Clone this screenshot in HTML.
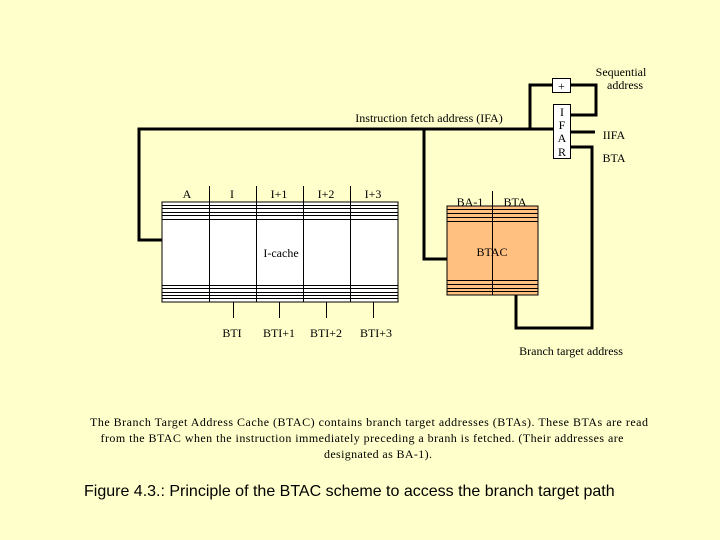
<!DOCTYPE html>
<html><head><meta charset="utf-8"><style>
html,body{margin:0;padding:0;background:#ffffcc;}
svg{display:block}
text{font-family:"Liberation Serif",serif;font-size:12px;fill:#000}
</style></head><body>
<svg width="720" height="540" viewBox="0 0 720 540" xmlns="http://www.w3.org/2000/svg">
<rect width="720" height="540" fill="#ffffcc"/>
<rect x="162" y="202" width="236" height="100" fill="#fff" stroke="#000" stroke-width="1"/>
<g stroke="#000" stroke-width="1">
<line x1="162" y1="205.5" x2="398" y2="205.5"/><line x1="162" y1="208.5" x2="398" y2="208.5"/>
<line x1="162" y1="212.5" x2="398" y2="212.5"/><line x1="162" y1="215.5" x2="398" y2="215.5"/>
<line x1="162" y1="219.5" x2="398" y2="219.5"/>
<line x1="162" y1="285.5" x2="398" y2="285.5"/><line x1="162" y1="288.5" x2="398" y2="288.5"/>
<line x1="162" y1="292.5" x2="398" y2="292.5"/><line x1="162" y1="295.5" x2="398" y2="295.5"/>
<line x1="162" y1="298.5" x2="398" y2="298.5"/>
<line x1="209.5" y1="186" x2="209.5" y2="302"/><line x1="256.5" y1="186" x2="256.5" y2="302"/>
<line x1="303.5" y1="186" x2="303.5" y2="302"/><line x1="350.5" y1="186" x2="350.5" y2="302"/>
<line x1="233.5" y1="302" x2="233.5" y2="318"/><line x1="279.5" y1="302" x2="279.5" y2="318"/>
<line x1="326.5" y1="302" x2="326.5" y2="318"/><line x1="373.5" y1="302" x2="373.5" y2="318"/>
</g>
<text x="187" y="198" text-anchor="middle">A</text>
<text x="232" y="198" text-anchor="middle">I</text>
<text x="279" y="198" text-anchor="middle">I+1</text>
<text x="326" y="198" text-anchor="middle">I+2</text>
<text x="373" y="198" text-anchor="middle">I+3</text>
<text x="281" y="257" text-anchor="middle">I-cache</text>
<text x="232" y="337" text-anchor="middle">BTI</text>
<text x="279" y="337" text-anchor="middle">BTI+1</text>
<text x="326" y="337" text-anchor="middle">BTI+2</text>
<text x="376" y="337" text-anchor="middle">BTI+3</text>
<rect x="447" y="206" width="91" height="89" fill="#ffc080" stroke="#000" stroke-width="1"/>
<g stroke="#000" stroke-width="1">
<line x1="447" y1="209.5" x2="538" y2="209.5"/><line x1="447" y1="213.5" x2="538" y2="213.5"/>
<line x1="447" y1="217.5" x2="538" y2="217.5"/><line x1="447" y1="221.5" x2="538" y2="221.5"/>
<line x1="447" y1="280.5" x2="538" y2="280.5"/><line x1="447" y1="284.5" x2="538" y2="284.5"/>
<line x1="447" y1="288.5" x2="538" y2="288.5"/><line x1="447" y1="291.5" x2="538" y2="291.5"/>
<line x1="492.5" y1="191" x2="492.5" y2="295"/>
</g>
<text x="470" y="206" text-anchor="middle">BA-1</text>
<text x="515" y="206" text-anchor="middle">BTA</text>
<text x="492" y="256" text-anchor="middle">BTAC</text>
<g stroke="#000" stroke-width="3" fill="none">
<polyline points="162,240 139,240 139,129 553,129"/>
<polyline points="530,129 530,85 552,85"/>
<polyline points="571,85 596,85 596,115 571,115"/>
<line x1="571" y1="132" x2="595" y2="132"/>
<polyline points="571,147 592,147 592,328 516,328 516,295"/>
<polyline points="447,259 424,259 424,129"/>
</g>
<rect x="552.5" y="78.5" width="18" height="14" fill="#fff" stroke="#000"/>
<text x="561.5" y="90" text-anchor="middle">+</text>
<rect x="553.5" y="104.5" width="17" height="54" fill="#fff" stroke="#000"/>
<text x="562" y="116" text-anchor="middle">I</text>
<text x="562" y="129" text-anchor="middle">F</text>
<text x="562" y="142" text-anchor="middle">A</text>
<text x="562" y="156" text-anchor="middle">R</text>
<text x="429" y="122" text-anchor="middle">Instruction fetch address (IFA)</text>
<text x="621" y="76" text-anchor="middle">Sequential</text>
<text x="625" y="89" text-anchor="middle">address</text>
<text x="614" y="139" text-anchor="middle">IIFA</text>
<text x="614" y="162" text-anchor="middle">BTA</text>
<text x="571" y="355" text-anchor="middle">Branch target address</text>
<text x="369" y="426" text-anchor="middle" textLength="558" lengthAdjust="spacing">The Branch Target Address Cache (BTAC) contains branch target addresses (BTAs). These BTAs are read</text>
<text x="362" y="442" text-anchor="middle" textLength="523" lengthAdjust="spacing">from the BTAC when the instruction immediately preceding a branh is fetched. (Their addresses are</text>
<text x="378" y="458" text-anchor="middle" textLength="108" lengthAdjust="spacing">designated as BA-1).</text>
<text x="84" y="496" style="font-family:'Liberation Sans',sans-serif;font-size:16px">Figure 4.3.: Principle of the BTAC scheme to access the branch target path</text>
</svg>
</body></html>
